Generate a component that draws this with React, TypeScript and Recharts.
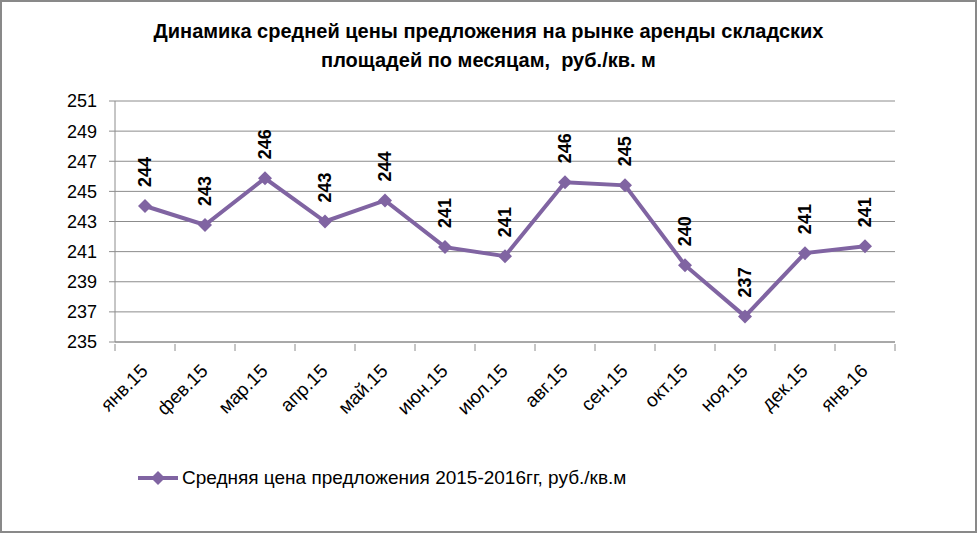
import React from 'react'
import { LineChart, Line, XAxis, YAxis, CartesianGrid, LabelList } from 'recharts'

const months = ['янв.15', 'фев.15', 'мар.15', 'апр.15', 'май.15', 'июн.15', 'июл.15', 'авг.15', 'сен.15', 'окт.15', 'ноя.15', 'дек.15', 'янв.16']
const prices = [244.03, 242.77, 245.87, 243.0, 244.4, 241.3, 240.7, 245.6, 245.4, 240.1, 236.7, 240.9, 241.35]
const yTicks = [235, 237, 239, 241, 243, 245, 247, 249, 251]
const seriesName = 'Средняя цена предложения 2015-2016гг, руб./кв.м'
const titleLines = ['Динамика средней цены предложения на рынке аренды складских', 'площадей по месяцам,  руб./кв. м']

const FONT = "'Liberation Sans', Arial, sans-serif"
const PURPLE = '#8064A2'
const GRID = '#8c8c8c'
const HALF_BAND = 30

const data = months.map((m, i) => ({ month: m, price: prices[i] }))

const XTick = (props: any) => {
  const { x, y, payload, index } = props
  const tx = x + 4
  const ty = y + 28
  return (
    <g>
      <line x1={x - HALF_BAND} y1={y} x2={x - HALF_BAND} y2={y + 7} stroke={GRID} />
      {index === months.length - 1 && (
        <line x1={x + HALF_BAND} y1={y} x2={x + HALF_BAND} y2={y + 7} stroke={GRID} />
      )}
      <text
        x={tx}
        y={ty}
        textAnchor="end"
        fontSize={19}
        fontFamily={FONT}
        fill="#000"
        transform={`rotate(-45 ${tx} ${ty})`}
      >
        {payload.value}
      </text>
    </g>
  )
}

const Diamond = (props: any) => {
  const { cx, cy } = props
  if (cx == null || cy == null) return null
  const r = 7
  return <polygon points={`${cx},${cy - r} ${cx + r},${cy} ${cx},${cy + r} ${cx - r},${cy}`} fill={PURPLE} />
}

const ValueLabel = (props: any) => {
  const { x, y, value } = props
  const lx = x
  const ly = y - 19
  return (
    <text
      x={lx}
      y={ly}
      textAnchor="start"
      dominantBaseline="central"
      fontSize={18}
      fontWeight="bold"
      fontFamily={FONT}
      fill="#000"
      transform={`rotate(-90 ${lx} ${ly})`}
    >
      {Math.round(value)}
    </text>
  )
}

export default function App() {
  return (
    <div style={{ position: 'absolute', left: 0, top: 0, width: 977, height: 533, background: '#fff', fontFamily: FONT }}>
      <div
        style={{
          position: 'absolute', left: 0, top: 0, width: 977, height: 533,
          boxSizing: 'border-box', border: '2px solid #898989',
        }}
      />
      <div
        style={{
          position: 'absolute', left: 0, top: 17, width: 977, textAlign: 'center',
          fontWeight: 'bold', fontSize: 20, lineHeight: '29px', color: '#000',
        }}
      >
        {titleLines.map((t) => (
          <div key={t} style={{ whiteSpace: 'pre' }}>{t}</div>
        ))}
      </div>
      <div style={{ position: 'absolute', left: 0, top: 0 }}>
        <LineChart width={977} height={533} data={data} margin={{ top: 101, right: 82, bottom: 131, left: 65 }}>
          <CartesianGrid vertical={false} stroke={GRID} />
          <XAxis
            dataKey="month"
            height={60}
            stroke={GRID}
            tickLine={false}
            tickSize={0}
            tick={<XTick />}
            interval={0}
            padding={{ left: HALF_BAND, right: HALF_BAND }}
          />
          <YAxis
            width={50}
            domain={[235, 251]}
            ticks={yTicks}
            stroke={GRID}
            tickSize={6}
            tickMargin={12}
            tick={{ fill: '#000', fontSize: 18, fontFamily: FONT }}
          />
          <Line
            dataKey="price"
            name={seriesName}
            stroke={PURPLE}
            strokeWidth={4}
            dot={<Diamond />}
            activeDot={false}
            isAnimationActive={false}
          >
            <LabelList dataKey="price" content={<ValueLabel />} />
          </Line>
        </LineChart>
      </div>
      <div style={{ position: 'absolute', left: 138, top: 466, display: 'flex', alignItems: 'center', height: 24 }}>
        <svg width={42} height={24}>
          <line x1={0} y1={12} x2={40} y2={12} stroke={PURPLE} strokeWidth={4} />
          <polygon points="20,5 27,12 20,19 13,12" fill={PURPLE} />
        </svg>
        <span style={{ fontSize: 19, color: '#000', marginLeft: 2, whiteSpace: 'pre' }}>{seriesName}</span>
      </div>
    </div>
  )
}
